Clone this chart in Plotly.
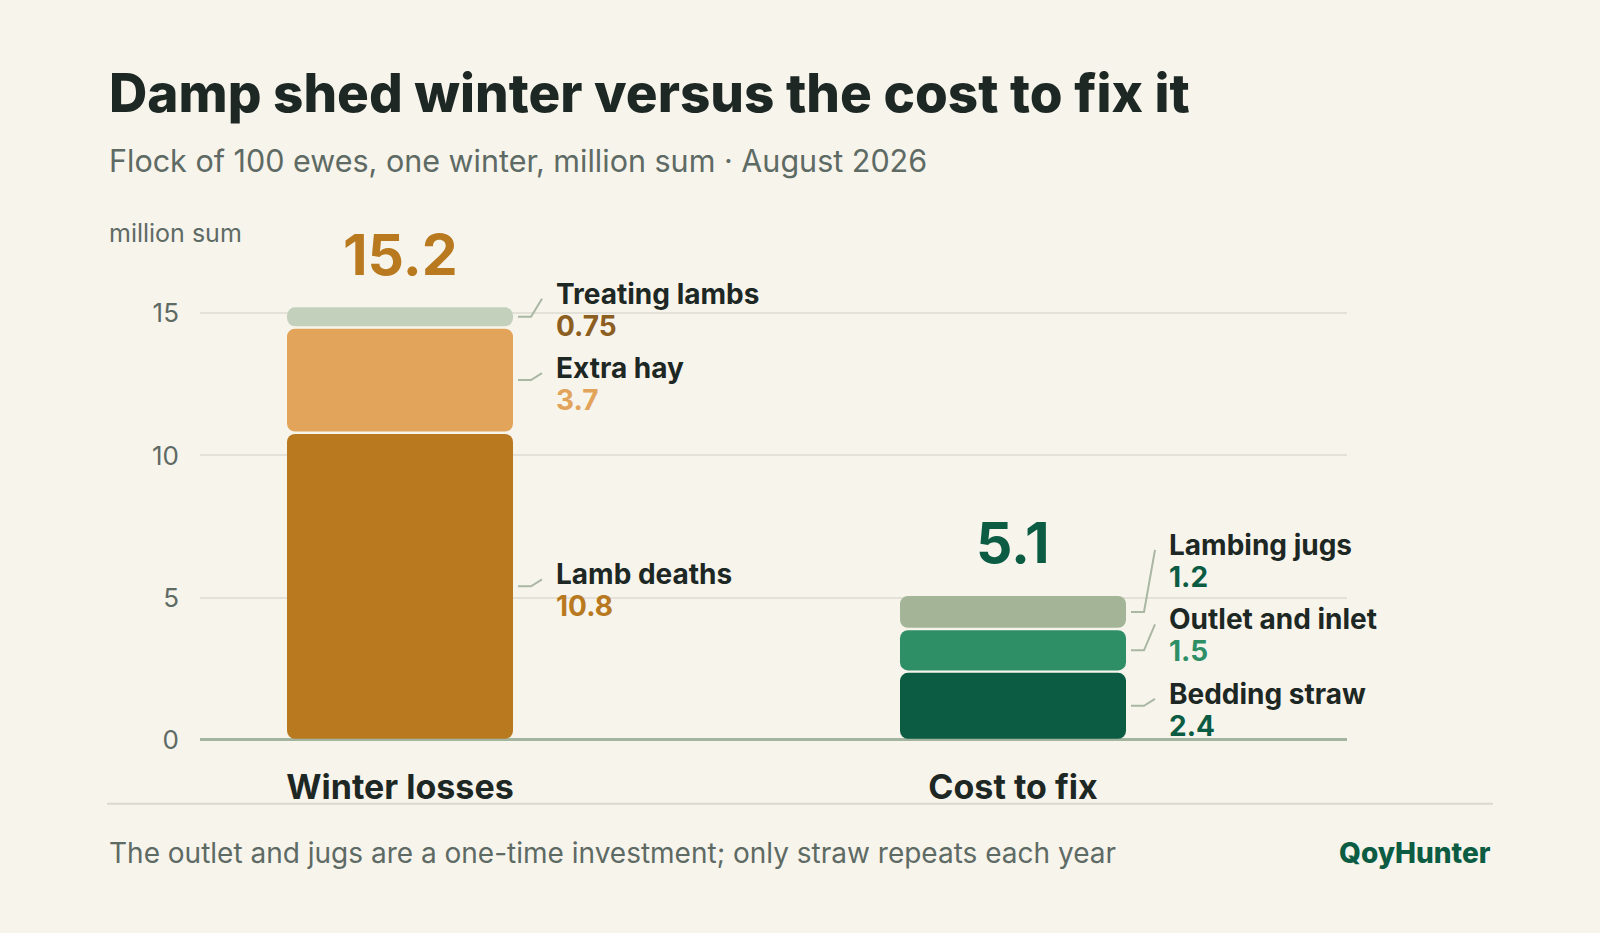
import plotly.graph_objects as go

# ---------------------------------------------------------------------------
# Data
# ---------------------------------------------------------------------------
categories = ["Winter losses", "Cost to fix"]

loss_names = ["Lamb deaths", "Extra hay", "Treating lambs"]
loss_values = [10.8, 3.7, 0.75]

fix_names = ["Bedding straw", "Outlet and inlet", "Lambing jugs"]
fix_values = [2.4, 1.5, 1.2]

total_labels = ["15.2", "5.1"]
y_ticks = [0, 5, 10, 15]

# ---------------------------------------------------------------------------
# Styling
# ---------------------------------------------------------------------------
BG = "#F7F4EC"
INK = "#1D2723"
MUTED = "#5E6A64"
GRID = "#E4E1D8"
BASELINE = "#A3B49F"
LEADER = "#A9B7A3"
FONT = "Inter"

loss_colors = ["#B8791F", "#E2A35A", "#C3D1BC"]
loss_value_colors = ["#B8791F", "#E2A35A", "#8C5E1F"]
fix_colors = ["#0B5C43", "#2E8F66", "#A3B596"]
fix_value_colors = ["#0B5C43", "#2E8F66", "#0B5C43"]
total_colors = ["#B8791F", "#0B5C43"]

FIG_W, FIG_H = 1600, 933
X_LEFT_PX, X_RIGHT_PX = 200, 1347
Y_BOTTOM_PX, Y_TOP_PX = 752, 275
Y_MAX = 16.5
X_STEP_PX = 613  # px between the two bar centres
X_FIRST_PX = 400  # px of first bar centre

PPU = (Y_BOTTOM_PX - Y_TOP_PX) / Y_MAX  # px per y unit
BAR_W = 226 / X_STEP_PX
GAP = 1.2 / PPU
LABEL_RISE = 12 / PPU
LABEL_STEP = 75.7 / PPU


def px_x(px):
    return px / X_STEP_PX


stacks = [
    (loss_names, loss_values, loss_colors, loss_value_colors),
    (fix_names, fix_values, fix_colors, fix_value_colors),
]

seg_x, seg_base, seg_y, seg_c = [], [], [], []
lead_x, lead_y = [], []
annotations = []

for pos, (names, values, colors, vcolors) in enumerate(stacks):
    base = 0.0
    prev_label = -1e9
    edge = pos + BAR_W / 2
    for name, v, c, vc in zip(names, values, colors, vcolors):
        mid = base + v / 2
        seg_x.append(pos)
        seg_base.append(base + GAP)
        seg_y.append(v - 2 * GAP)
        seg_c.append(c)

        label_y = max(mid + LABEL_RISE, prev_label + LABEL_STEP)
        prev_label = label_y

        lead_x += [edge + px_x(5), edge + px_x(18), edge + px_x(29), None]
        lead_y += [mid, mid, label_y - 5 / PPU, None]

        annotations.append(
            dict(
                x=edge, y=label_y, xref="x", yref="y", xshift=41,
                text=name, showarrow=False, xanchor="left", yanchor="middle",
                font=dict(family=FONT, size=28, color=INK, weight=700),
            )
        )
        annotations.append(
            dict(
                x=edge, y=label_y, xref="x", yref="y", xshift=41, yshift=-32,
                text=str(v), showarrow=False, xanchor="left", yanchor="middle",
                font=dict(family=FONT, size=28, color=vc, weight=700),
            )
        )
        base += v

    annotations.append(
        dict(
            x=pos, y=base, xref="x", yref="y", yshift=52,
            text=total_labels[pos], showarrow=False,
            xanchor="center", yanchor="middle",
            font=dict(family=FONT, size=57, color=total_colors[pos], weight=700),
        )
    )

fig = go.Figure()
fig.add_trace(
    go.Bar(
        x=seg_x, y=seg_y, base=seg_base, width=BAR_W,
        marker=dict(color=seg_c, cornerradius=8, line=dict(width=0)),
        hoverinfo="skip",
    )
)
fig.add_trace(
    go.Scatter(
        x=lead_x, y=lead_y, mode="lines",
        line=dict(color=LEADER, width=2),
        hoverinfo="skip", cliponaxis=False,
    )
)


def paper_y(px):
    return 1 - px / FIG_H


annotations += [
    dict(
        x=107 / FIG_W, y=paper_y(95), xref="paper", yref="paper",
        text="Damp shed winter versus the cost to fix it", showarrow=False,
        xanchor="left", yanchor="middle",
        font=dict(family=FONT, size=53, color=INK, weight=800),
    ),
    dict(
        x=107 / FIG_W, y=paper_y(163), xref="paper", yref="paper",
        text="Flock of 100 ewes, one winter, million sum · August 2026",
        showarrow=False, xanchor="left", yanchor="middle",
        font=dict(family=FONT, size=30.5, color=MUTED),
    ),
    dict(
        x=107 / FIG_W, y=paper_y(237), xref="paper", yref="paper",
        text="million sum", showarrow=False, xanchor="left", yanchor="middle",
        font=dict(family=FONT, size=25, color=MUTED),
    ),
    dict(
        x=107 / FIG_W, y=paper_y(867), xref="paper", yref="paper",
        text="The outlet and jugs are a one-time investment; only straw repeats each year",
        showarrow=False, xanchor="left", yanchor="middle",
        font=dict(family=FONT, size=28, color=MUTED),
    ),
    dict(
        x=1493 / FIG_W, y=paper_y(867), xref="paper", yref="paper",
        text="QoyHunter", showarrow=False, xanchor="right", yanchor="middle",
        font=dict(family=FONT, size=28, color="#0B5C43", weight=800),
    ),
]

fig.update_layout(
    width=FIG_W,
    height=FIG_H,
    paper_bgcolor=BG,
    plot_bgcolor=BG,
    margin=dict(l=0, r=0, t=0, b=0),
    barmode="overlay",
    showlegend=False,
    hovermode=False,
    annotations=annotations,
    shapes=[
        dict(
            type="line", xref="paper", yref="paper",
            x0=107 / FIG_W, x1=1493 / FIG_W, y0=paper_y(817), y1=paper_y(817),
            line=dict(color="#DCD8CD", width=2),
        )
    ],
)
fig.update_xaxes(
    domain=[X_LEFT_PX / FIG_W, X_RIGHT_PX / FIG_W],
    range=[
        px_x(X_LEFT_PX - X_FIRST_PX),
        px_x(X_RIGHT_PX - X_FIRST_PX),
    ],
    tickvals=[0, 1],
    ticktext=categories,
    tickfont=dict(family=FONT, size=34, color=INK, weight=700),
    ticks="",
    ticklabelstandoff=24,
    showgrid=False,
    zeroline=False,
    showline=False,
    fixedrange=True,
)
fig.update_yaxes(
    domain=[paper_y(Y_BOTTOM_PX), paper_y(Y_TOP_PX)],
    range=[0, Y_MAX],
    tickvals=y_ticks,
    tickfont=dict(family=FONT, size=26, color=MUTED),
    ticks="",
    ticklabelstandoff=20,
    showgrid=True,
    gridcolor=GRID,
    gridwidth=1.5,
    zeroline=True,
    zerolinecolor=BASELINE,
    zerolinewidth=3,
    showline=False,
    fixedrange=True,
)

fig.write_html(
    "out.html",
    config={"displayModeBar": False},
    post_script="document.body.style.margin='0';",
)
